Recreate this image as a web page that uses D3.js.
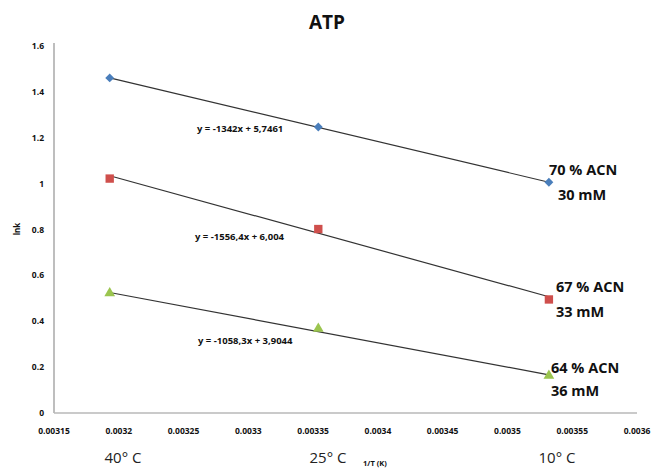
<!DOCTYPE html>
<html><head><meta charset="utf-8">
<script src="https://cdn.jsdelivr.net/npm/d3@7"></script>
<style>body{margin:0;background:#fff}svg{display:block}</style>
</head><body><svg id="c" width="654" height="470"></svg>
<script>
const xValues = [0.003193, 0.003354, 0.003532];
const seriesNames = ["70 % ACN", "67 % ACN", "64 % ACN"];
const seriesConc = ["30 mM", "33 mM", "36 mM"];
const valuesA = [1.461, 1.247, 1.006];
const valuesB = [1.022, 0.802, 0.495];
const valuesC = [0.522, 0.368, 0.163];
const slopes = [-1342, -1556.4, -1058.3];
const intercepts = [5.7461, 6.004, 3.9044];
const equations = ["y = -1342x + 5,7461", "y = -1556,4x + 6,004", "y = -1058,3x + 3,9044"];
const colors = ["#4a7ebb", "#cf4f4c", "#9bc54f"];
const symbols = [d3.symbolDiamond2, d3.symbolSquare, d3.symbolTriangle];
const xTicks = [0.00315,0.0032,0.00325,0.0033,0.00335,0.0034,0.00345,0.0035,0.00355,0.0036];
const xTickLabels = ["0.00315","0.0032","0.00325","0.0033","0.00335","0.0034","0.00345","0.0035","0.00355","0.0036"];
const yTicks = [0,0.2,0.4,0.6,0.8,1,1.2,1.4,1.6];
const yTickLabels = ["0","0.2","0.4","0.6","0.8","1","1.2","1.4","1.6"];
const tempLabels = ["40° C","25° C","10° C"];

const series = [valuesA, valuesB, valuesC];
const svg = d3.select("#c");
const font = "'Open Sans', sans-serif";
const x = d3.scaleLinear().domain([0.00315, 0.0036]).range([54, 637]);
const y = d3.scaleLinear().domain([0, 1.6]).range([413, 46]);

svg.append("text").attr("x", 327).attr("y", 29).attr("text-anchor","middle")
  .attr("font-family", font).attr("font-weight","bold").attr("font-size", 19).attr("fill","#111").text("ATP");

// axes lines
svg.append("line").attr("x1",54).attr("x2",54).attr("y1",43).attr("y2",413).attr("stroke","#a8a8a8").attr("stroke-width",1.5);
svg.append("line").attr("x1",54).attr("x2",637).attr("y1",413).attr("y2",413).attr("stroke","#b8b8b8").attr("stroke-width",1.5);

svg.append("g").selectAll("text").data(yTicks).join("text")
  .attr("x",44).attr("y",d=>y(d)+3).attr("text-anchor","end")
  .attr("font-family",font).attr("font-weight","bold").attr("font-size",8.5).attr("fill","#111")
  .text((d,i)=>yTickLabels[i]);
svg.append("g").selectAll("text").data(xTicks).join("text")
  .attr("x",d=>x(d)).attr("y",434).attr("text-anchor","middle")
  .attr("font-family",font).attr("font-weight","bold").attr("font-size",8.5).attr("fill","#111")
  .text((d,i)=>xTickLabels[i]);

svg.append("text").attr("transform","translate(20,229) rotate(-90)").attr("text-anchor","middle")
  .attr("font-family",font).attr("font-weight","bold").attr("font-size",8).attr("fill","#111").text("lnk");

// trendlines
series.forEach((vals,i)=>{
  const x0 = xValues[0], x1 = xValues[xValues.length-1];
  svg.append("line").attr("x1",x(x0)).attr("y1",y(slopes[i]*x0+intercepts[i]))
    .attr("x2",x(x1)).attr("y2",y(slopes[i]*x1+intercepts[i]))
    .attr("stroke","#333").attr("stroke-width",1.2);
});
// markers
series.forEach((vals,i)=>{
  svg.append("g").selectAll("path").data(vals).join("path")
    .attr("transform",(d,j)=>`translate(${x(xValues[j])},${y(d)})`)
    .attr("d", d3.symbol().type(symbols[i]).size(i===0?50:(i===1?70:50)))
    .attr("fill", colors[i]);
});

// equations
const eqPos = [[197,132],[195,240],[198,344]];
equations.forEach((t,i)=>{
  svg.append("text").attr("x",eqPos[i][0]).attr("y",eqPos[i][1])
    .attr("font-family",font).attr("font-weight","bold").attr("font-size",9.5).attr("fill","#111").text(t);
});

// series labels
const labPos = [[549,175,558,200],[556,292,556,317],[551,373,551,396]];
series.forEach((v,i)=>{
  svg.append("text").attr("x",labPos[i][0]).attr("y",labPos[i][1])
    .attr("font-family",font).attr("font-weight","bold").attr("font-size",14.5).attr("fill","#111").text(seriesNames[i]);
  svg.append("text").attr("x",labPos[i][2]).attr("y",labPos[i][3])
    .attr("font-family",font).attr("font-weight","bold").attr("font-size",14.5).attr("fill","#111").text(seriesConc[i]);
});

// temperature labels
const tempX = [123, 328, 557];
tempLabels.forEach((t,i)=>{
  svg.append("text").attr("x",tempX[i]).attr("y",463).attr("text-anchor","middle")
    .attr("font-family",font).attr("font-size",15).attr("fill","#222").text(t);
});
svg.append("text").attr("x",363).attr("y",466)
  .attr("font-family",font).attr("font-weight","bold").attr("font-size",7.5).attr("fill","#111").text("1/T (K)");
</script></body></html>
